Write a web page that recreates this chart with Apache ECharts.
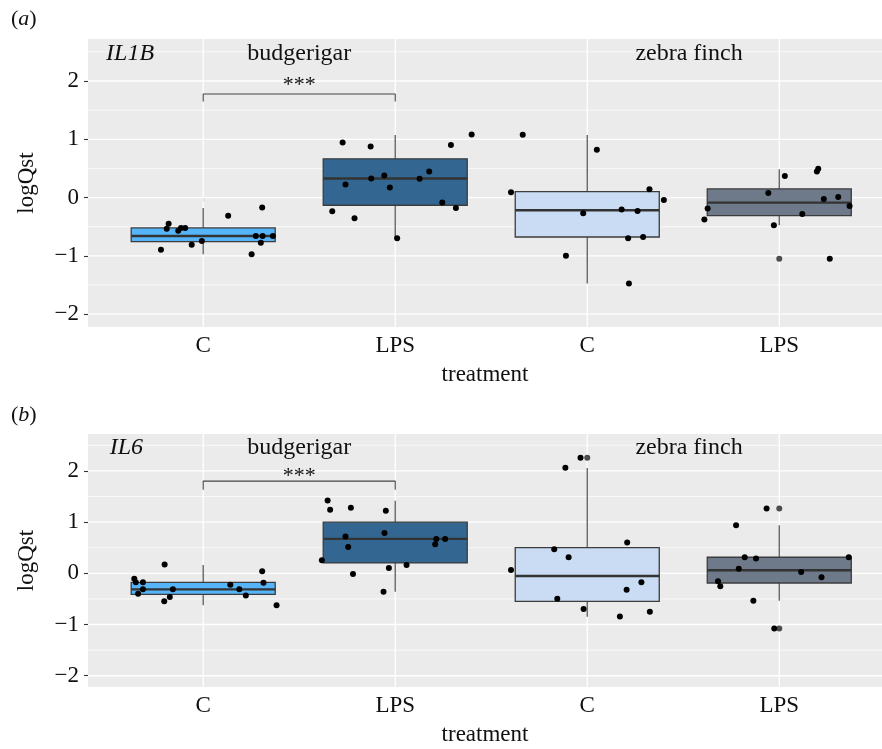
<!DOCTYPE html>
<html>
<head>
<meta charset="utf-8">
<script src="https://cdn.jsdelivr.net/npm/echarts@6/dist/echarts.min.js"></script>
<style>html,body{margin:0;padding:0;background:#fff;}#chart{width:882px;height:749px;}</style>
</head>
<body>
<div id="chart"></div>
<script>
// ---------- data ----------
const categories = ['C', 'LPS', 'C', 'LPS'];
const catPos = [1, 2, 3, 4];
const yTicks = [-2, -1, 0, 1, 2];
const yMinor = [-1.5, -0.5, 0.5, 1.5, 2.5];
const fills = ['#56B4F9', '#336791', '#C9DCF3', '#6E7A8A'];

// boxes: [x, lowerWhisker, Q1, median, Q3, upperWhisker]
const boxesA = [
  [1, -0.97, -0.756, -0.66, -0.52, -0.18],
  [2, -0.70, -0.132, 0.327, 0.665, 1.075],
  [3, -1.473, -0.676, -0.218, 0.103, 1.072],
  [4, -0.476, -0.309, -0.086, 0.149, 0.487]
];
const boxesB = [
  [1, -0.626, -0.411, -0.313, -0.176, 0.163],
  [2, -0.359, 0.202, 0.672, 0.998, 1.416],
  [3, -0.848, -0.548, -0.052, 0.502, 2.055],
  [4, -0.535, -0.189, 0.059, 0.313, 0.939]
];

// jittered points [x, logQst]
const budC_A = [[0.82,-0.447],[0.81,-0.533],[0.87,-0.567],[0.884,-0.52],[0.906,-0.52],[0.78,-0.894],[0.94,-0.81],[0.993,-0.745],[1.13,-0.31],[1.307,-0.172],[1.274,-0.659],[1.309,-0.659],[1.363,-0.659],[1.30,-0.774],[1.252,-0.974]];
const budLPS_A = [[1.726,0.946],[1.872,0.877],[2.29,0.9],[2.398,1.083],[1.741,0.223],[1.875,0.327],[1.943,0.378],[1.972,0.172],[2.127,0.321],[2.177,0.447],[2.245,-0.086],[2.316,-0.178],[1.672,-0.235],[1.788,-0.355],[2.01,-0.699]];
const zfC_A = [[2.664,1.077],[3.05,0.82],[2.603,0.092],[3.324,0.143],[3.399,-0.04],[2.979,-0.269],[3.179,-0.206],[3.262,-0.229],[3.213,-0.699],[3.291,-0.676],[2.889,-0.997],[3.217,-1.473]];
const zfLPS_A = [[4.029,0.372],[4.196,0.447],[4.203,0.493],[3.943,0.08],[4.232,-0.023],[4.307,0.011],[4.366,-0.143],[3.627,-0.189],[3.61,-0.378],[4.12,-0.281],[3.972,-0.476],[4.263,-1.049]];
const outliersA = [[4,-1.049]];

const budC_B = [[0.641,-0.104],[0.649,-0.176],[0.686,-0.176],[0.686,-0.313],[0.661,-0.398],[0.799,0.17],[0.842,-0.313],[0.826,-0.463],[0.797,-0.548],[1.141,-0.222],[1.188,-0.313],[1.222,-0.431],[1.307,0.039],[1.314,-0.183],[1.382,-0.626]];
const budLPS_B = [[1.648,1.422],[1.661,1.239],[1.769,1.279],[1.951,1.22],[1.741,0.718],[1.755,0.515],[1.944,0.789],[2.214,0.672],[2.26,0.672],[2.208,0.568],[1.618,0.254],[1.967,0.104],[2.059,0.163],[1.78,-0.013],[1.939,-0.359]];
const zfC_B = [[2.886,2.061],[2.965,2.257],[2.828,0.47],[2.903,0.313],[3.208,0.6],[2.603,0.065],[3.282,-0.176],[3.205,-0.32],[2.844,-0.496],[2.981,-0.698],[3.326,-0.75],[3.17,-0.841]];
const zfLPS_B = [[3.934,1.265],[3.775,0.939],[3.82,0.313],[3.879,0.287],[4.362,0.313],[3.789,0.091],[4.114,0.026],[4.22,-0.078],[3.681,-0.157],[3.693,-0.254],[3.865,-0.535],[3.974,-1.076]];
const outliersB = [[3,2.257],[4,1.265],[4,-1.076]];

// significance brackets
const bracketA = [[1,1.65],[1,1.777],[2,1.777],[2,1.65]];
const bracketB = [[1,1.63],[1,1.80],[2,1.80],[2,1.63]];

// annotation texts: [x, y]
const textsA = [
  {t:'IL1B', x:0.619, y:2.47, italic:true},
  {t:'budgerigar', x:1.5, y:2.47},
  {t:'zebra finch', x:3.53, y:2.47},
  {t:'***', x:1.5, y:1.93, size:22}
];
const textsB = [
  {t:'IL6', x:0.60, y:2.45, italic:true},
  {t:'budgerigar', x:1.5, y:2.45},
  {t:'zebra finch', x:3.53, y:2.45},
  {t:'***', x:1.5, y:1.90, size:22}
];

// ---------- chart ----------
const FONT = '"Liberation Serif", "DejaVu Serif", serif';
const chart = echarts.init(document.getElementById('chart'), null, {renderer:'canvas'});

function gridLinesData() {
  const d = [];
  yMinor.forEach(v => d.push([v, 1]));
  yTicks.forEach(v => d.push([v, 0]));
  catPos.forEach(v => d.push([v, 2]));
  return d;
}
function renderGrid(params, api) {
  const cs = params.coordSys;
  const v = api.value(0), kind = api.value(1);
  if (kind === 2) {
    const p = api.coord([v, 0]);
    return {type:'line', shape:{x1:p[0], y1:cs.y, x2:p[0], y2:cs.y+cs.height},
      style:{stroke:'#ffffff', lineWidth:1.3}, silent:true};
  }
  const p = api.coord([1, v]);
  return {type:'line', shape:{x1:cs.x, y1:p[1], x2:cs.x+cs.width, y2:p[1]},
    style:{stroke:'#ffffff', lineWidth: kind === 0 ? 1.3 : 0.7}, silent:true};
}
function renderBox(params, api) {
  const x = api.value(0);
  const lo = api.coord([x, api.value(1)]);
  const q1 = api.coord([x, api.value(2)]);
  const med = api.coord([x, api.value(3)]);
  const q3 = api.coord([x, api.value(4)]);
  const hi = api.coord([x, api.value(5)]);
  const w = api.size([0.75, 0])[0];
  const h = w / 2;
  return {type:'group', children:[
    {type:'line', shape:{x1:hi[0], y1:hi[1], x2:q3[0], y2:q3[1]}, style:{stroke:'#666666', lineWidth:1.4}},
    {type:'line', shape:{x1:q1[0], y1:q1[1], x2:lo[0], y2:lo[1]}, style:{stroke:'#666666', lineWidth:1.4}},
    {type:'rect', shape:{x:q3[0]-h, y:q3[1], width:w, height:q1[1]-q3[1]},
      style:{fill:fills[params.dataIndex], stroke:'#3c3c3c', lineWidth:1.3}},
    {type:'line', shape:{x1:med[0]-h, y1:med[1], x2:med[0]+h, y2:med[1]}, style:{stroke:'#333333', lineWidth:2.4}}
  ]};
}
function makeTextRenderer(list) {
  return function(params, api) {
    const item = list[params.dataIndex];
    const p = api.coord([api.value(0), api.value(1)]);
    return {type:'text', x:p[0], y:p[1], silent:true,
      style:{text:item.t, fill:'#111', align:'center', verticalAlign:'middle',
        font:(item.italic ? 'italic ' : '') + (item.size || 24) + 'px ' + FONT}};
  };
}

function axesFor(idx) {
  return {
    x: {type:'value', gridIndex:idx, min:0.4, max:4.535,
      axisLine:{show:false}, splitLine:{show:false},
      axisTick:{show:true, customValues:catPos, length:4, lineStyle:{color:'#333', width:1.1}},
      axisLabel:{customValues:catPos, formatter:v => categories[Math.round(v)-1],
        fontFamily:FONT, fontSize:23, color:'#111', margin:7},
      name:'treatment', nameLocation:'middle', nameGap:36,
      nameTextStyle:{fontFamily:FONT, fontSize:23, color:'#111'}},
    y: {type:'value', gridIndex:idx, min:-2.22, max:2.72,
      axisLine:{show:false}, splitLine:{show:false},
      axisTick:{show:true, customValues:yTicks, length:4, lineStyle:{color:'#333', width:1.1}},
      axisLabel:{customValues:yTicks, formatter:v => (v < 0 ? '\u2212' + Math.abs(v) : String(v)),
        fontFamily:FONT, fontSize:23, color:'#111', margin:9},
      name:'logQst', nameLocation:'middle', nameGap:50, nameRotate:90,
      nameTextStyle:{fontFamily:FONT, fontSize:23, color:'#111'}}
  };
}
const axA = axesFor(0), axB = axesFor(1);

function panelSeries(idx, boxes, groups, outliers, bracket, texts) {
  const s = [];
  s.push({type:'custom', xAxisIndex:idx, yAxisIndex:idx, renderItem:renderGrid, data:gridLinesData(), z:1, silent:true, animation:false});
  s.push({type:'custom', xAxisIndex:idx, yAxisIndex:idx, renderItem:renderBox, data:boxes, z:2, silent:true, animation:false});
  s.push({type:'scatter', xAxisIndex:idx, yAxisIndex:idx, data:outliers, symbolSize:6,
    itemStyle:{color:'#4d4d4d', opacity:1}, z:3, silent:true, animation:false});
  groups.forEach(g => s.push({type:'scatter', xAxisIndex:idx, yAxisIndex:idx, data:g, symbolSize:6,
    itemStyle:{color:'#000', opacity:1}, z:4, silent:true, animation:false}));
  s.push({type:'line', xAxisIndex:idx, yAxisIndex:idx, data:bracket, symbol:'none',
    lineStyle:{color:'#444', width:1.1}, z:4, silent:true, animation:false});
  s.push({type:'custom', xAxisIndex:idx, yAxisIndex:idx, renderItem:makeTextRenderer(texts),
    data:texts.map(o => [o.x, o.y]), z:5, silent:true, animation:false});
  return s;
}

const option = {
  animation:false,
  backgroundColor:'#ffffff',
  grid:[
    {left:88, top:39, width:794, height:288, show:true, backgroundColor:'#EBEBEB', borderWidth:0},
    {left:88, top:434, width:794, height:253, show:true, backgroundColor:'#EBEBEB', borderWidth:0}
  ],
  xAxis:[axA.x, axB.x],
  yAxis:[axA.y, axB.y],
  graphic:[
    {type:'text', left:11, top:8, style:{text:'{p|(}{i|a}{p|)}', rich:{
      p:{fontFamily:FONT, fontSize:22, fill:'#111'}, i:{fontFamily:FONT, fontSize:22, fontStyle:'italic', fill:'#111'}}}},
    {type:'text', left:11, top:404, style:{text:'{p|(}{i|b}{p|)}', rich:{
      p:{fontFamily:FONT, fontSize:22, fill:'#111'}, i:{fontFamily:FONT, fontSize:22, fontStyle:'italic', fill:'#111'}}}}
  ],
  series:[].concat(
    panelSeries(0, boxesA, [budC_A, budLPS_A, zfC_A, zfLPS_A], outliersA, bracketA, textsA),
    panelSeries(1, boxesB, [budC_B, budLPS_B, zfC_B, zfLPS_B], outliersB, bracketB, textsB)
  )
};
chart.setOption(option);
</script>
</body>
</html>
